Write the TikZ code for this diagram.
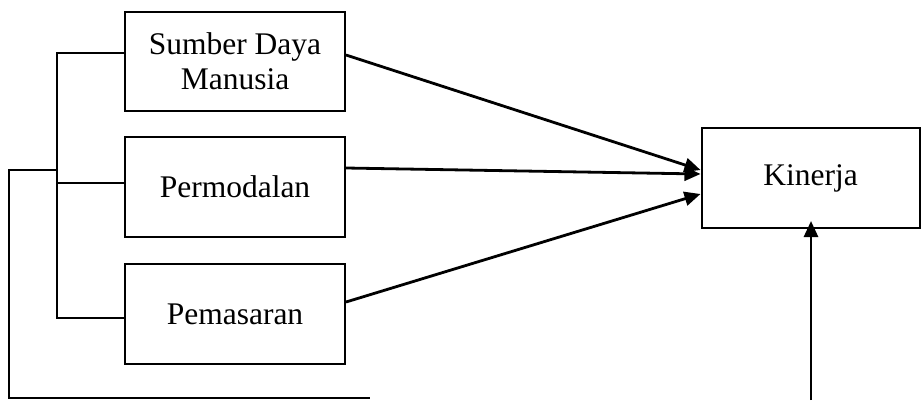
\documentclass[tikz,border=0pt]{standalone}
\usepackage{fontspec}
\setmainfont{Liberation Serif}
\usetikzlibrary{arrows.meta}
\begin{document}
\begin{tikzpicture}[x=1pt,y=-1pt,
  box/.style={draw,line width=2pt,rectangle,inner sep=0pt,align=center,
    font=\fontsize{31.5}{35}\selectfont},
  link/.style={line width=1.8pt},
  flow/.style={line width=2.8pt,-{Triangle[length=16pt,width=14pt]}}]
\useasboundingbox (0,0) rectangle (921,400);

% variable boxes
\node[box,minimum width=220pt,minimum height=99pt] (sdm) at (235,61) {Sumber Daya\\Manusia};
\node[box,minimum width=220pt,minimum height=100pt] (modal) at (235,187) {Permodalan};
\node[box,minimum width=220pt,minimum height=100pt] (pasar) at (235,314) {Pemasaran};
\node[box,minimum width=218pt,minimum height=100pt] (kin) at (810.5,178) {Kinerja};

% bracket joining the three variables
\coordinate (j1) at (57,53);
\coordinate (j2) at (57,183);
\coordinate (j3) at (57,318);
\draw[link] (sdm.west |- j1) -- (j1) -- (j3) -- (pasar.west |- j3);
\draw[link] (j2) -- (modal.west |- j2);

% joint path to the performance box
\coordinate (o) at (57,170);
\coordinate (c1) at (9,170);
\coordinate (c2) at (9,398);
\coordinate (c3) at (370,398);
\draw[link] (o) -- (c1) -- (c2) -- (c3);
\coordinate (c4) at (811,400);
\draw[flow,shorten >=-8pt] (c4) -- (kin.south -| c4);

% partial effects
\draw[flow] ([yshift=6pt]sdm.east) -- ([yshift=8pt]kin.west);
\draw[flow] ([yshift=19pt]modal.east) -- ([yshift=4pt]kin.west);
\draw[flow] ([yshift=12pt]pasar.east) -- ([yshift=-16pt]kin.west);
\end{tikzpicture}
\end{document}
